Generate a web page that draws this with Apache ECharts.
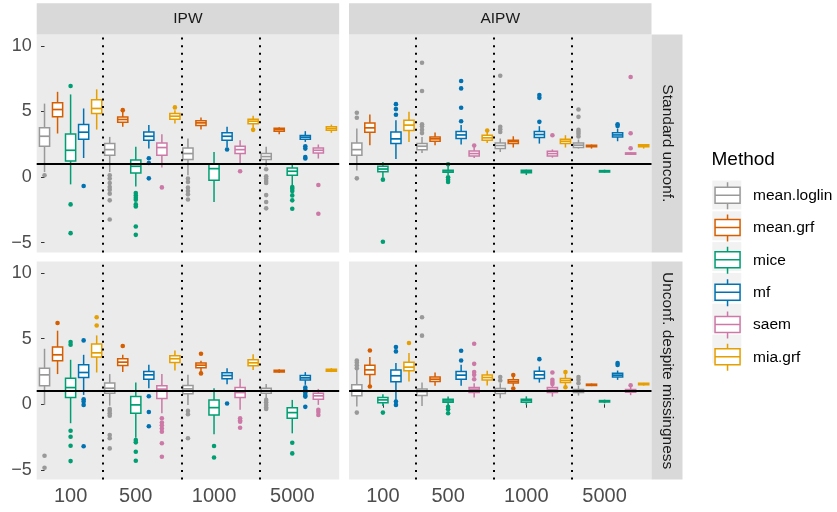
<!DOCTYPE html>
<html><head><meta charset="utf-8">
<script src="https://cdn.jsdelivr.net/npm/echarts@6/dist/echarts.min.js"></script>
<style>html,body{margin:0;padding:0;background:#fff}#c{width:837px;height:512px}</style>
</head><body><div id="c"></div>
<script>
// ---------------- data ----------------
const methods = ['mean.loglin', 'mean.grf', 'mice', 'mf', 'saem', 'mia.grf'];
const sampleSizes = ['100', '500', '1000', '5000'];
const estimators = ['IPW', 'AIPW'];
const scenarios = ['Standard unconf.', 'Unconf. despite missingness'];
const yTicks = [-5, 0, 5, 10];
const trueEffect = 1;

// box stats per method (rows) and sample size (cols): [min, Q1, median, Q3, max]
const ipwStandardBoxes = [
  [[0.38,2.35,3.11,3.75,5.6],[0.38,1.66,2.09,2.55,3.06],[0.13,1.33,1.79,2.22,2.94],[0.82,1.33,1.56,1.79,2.3]],
  [[3.32,4.59,5.15,5.66,6.5],[3.83,4.18,4.39,4.57,4.97],[3.62,3.93,4.13,4.29,4.54],[3.27,3.5,3.62,3.72,3.8]],
  [[-0.56,1.22,2.04,3.29,6.3],[-0.72,0.31,0.82,1.3,2.3],[-1.91,-0.25,0.64,0.97,1.91],[-0.64,0.13,0.44,0.69,1.07]],
  [[1.45,2.88,3.42,4.0,5.23],[2.17,2.81,3.11,3.44,3.96],[2.25,2.81,3.11,3.37,3.83],[2.68,2.88,3.04,3.17,3.5]],
  [null,[0.72,1.66,2.25,2.6,3.27],[1.03,1.79,2.09,2.35,2.81],[1.41,1.84,2.04,2.22,2.48]],
  [[3.62,4.85,5.23,5.89,6.69],[4.09,4.41,4.64,4.85,5.1],[3.7,4.06,4.26,4.41,4.67],[3.37,3.57,3.7,3.83,4.0]]
];
const ipwStandardOutliers = [
  [[0.13],[0.13,-0.12,-0.46,-0.77,-0.97,-1.27,-1.78,-3.24],[-0.12,-0.38,-0.81,-1.07,-1.32,-1.71],[0.59,0.05,-0.12,-0.31,-0.46,-1.38,-1.91,-2.39]],
  [[],[5.1],[],[]],
  [[6.94,-2.09,-4.28],[-1.22,-1.4,-1.58,-1.73,-2.09,-2.24,-3.77,-4.41],[],[-0.77,-0.9,-1.07,-1.4,-1.78,-2.42]],
  [[-0.69],[1.43,1.07,-0.1],[2.1],[2.35,2.17,1.53,1.41]],
  [[],[-0.79],[0.44],[-0.61,-2.8]],
  [[],[5.31],[3.6],[]]
];
const aipwStandardBoxes = [
  [[0.5,1.66,2.09,2.6,3.7],[1.84,2.09,2.35,2.55,3.06],[1.91,2.17,2.4,2.6,2.94],[2.17,2.25,2.43,2.6,2.86]],
  [[2.43,3.42,3.75,4.13,4.77],[2.43,2.73,2.91,3.06,3.4],[2.25,2.55,2.71,2.81,3.11],[2.17,2.3,2.38,2.43,2.48]],
  [[-0.05,0.41,0.61,0.82,1.15],[0.15,0.36,0.46,0.52,0.85],[0.15,0.33,0.43,0.51,0.56],[0.33,0.38,0.44,0.49,0.56]],
  [[1.38,2.55,2.91,3.44,4.34],[2.48,2.94,3.21,3.47,3.96],[2.55,3.01,3.24,3.47,3.88],[2.73,3.06,3.21,3.37,3.7]],
  [null,[1.45,1.61,1.79,1.99,2.3],[1.48,1.61,1.79,1.96,2.1],[1.68,1.74,1.79,1.84,1.9]],
  [[2.68,3.55,3.96,4.34,4.97],[2.6,2.81,2.99,3.19,3.45],[2.25,2.55,2.73,2.88,3.19],[2.17,2.3,2.4,2.46,2.5]]
];
const aipwStandardOutliers = [
  [[4.9,4.52,-0.1],[8.72,6.56,4.03,3.88,3.6,3.35],[7.73,3.83,3.65,3.44],[5.15,4.59,3.6,3.45,3.3,3.1]],
  [[],[],[],[]],
  [[-0.2,-4.94],[0.97,-0.02,-0.2,-0.38],[],[]],
  [[5.56,5.18,4.75],[7.32,6.76,5.28,4.26],[6.25,6.04,4.21],[4.03,3.9]],
  [[],[2.4],[3.19],[7.63,3.34,2.19]],
  [[],[3.55],[],[]]
];
const ipwUnconfBoxes = [
  [[-0.05,1.4,2.24,2.75,4.23],[-0.11,0.84,1.22,1.61,2.3],[-0.05,0.79,1.17,1.43,2.24],[0.46,0.84,1.04,1.22,1.55]],
  [[2.3,3.31,3.77,4.36,5.61],[2.45,2.96,3.21,3.47,3.77],[2.4,2.78,2.98,3.14,3.31],[2.38,2.45,2.52,2.6,2.67]],
  [[-1.45,0.51,1.27,1.99,3.39],[-2.55,-0.69,-0.05,0.58,1.66],[-2.3,-0.82,-0.26,0.33,1.22],[-2.22,-1.07,-0.64,-0.26,0.33]],
  [[0.71,2.04,2.42,3.01,3.77],[1.22,1.91,2.24,2.5,3.01],[1.53,1.94,2.19,2.4,2.75],[1.48,1.84,2.01,2.19,2.45]],
  [null,[-0.69,0.43,1.15,1.4,2.3],[-0.43,0.51,0.89,1.27,1.94],[-0.05,0.38,0.64,0.84,1.17]],
  [[2.42,3.6,3.92,4.59,5.25],[2.57,3.19,3.47,3.7,4.1],[2.62,2.93,3.16,3.39,3.82],[2.45,2.52,2.6,2.67,2.75]]
];
const ipwUnconfOutliers = [
  [[-3.93,-4.85],[-0.36,-0.5,-0.69,-0.87,-2.35,-2.6,-3.37],[-0.51,-0.77,-2.6],[0.33,0.15,-0.05,-0.25,-0.36]],
  [[6.2],[4.44],[3.85,2.35],[]],
  [[4.74,4.54,-2.02,-2.48,-3.17,-4.34],[-2.73,-2.91,-3.63,-4.31],[-3.19,-4.06],[-2.94,-3.75]],
  [[4.87,0.38,0.2,-0.05,-3.21],[0.61,-0.59,-1.68],[0.05],[1.27,1.1,0.9,0.7,0.58,-0.2]],
  [[],[-1.07,-1.4,-1.6,-1.85,-2.1,-2.98,-4.01],[-1.07,-1.25,-1.33,-1.79],[-0.43,-0.6,-0.82]],
  [[6.63,6.01],[],[],[]]
];
const aipwUnconfBoxes = [
  [[-0.18,0.64,1.09,1.48,2.62],[-0.13,0.66,0.96,1.17,1.65],[0.46,0.82,1.04,1.2,1.6],[0.66,0.89,1.0,1.12,1.4]],
  [[1.45,2.26,2.62,2.98,3.6],[1.4,1.73,1.91,2.07,2.42],[1.4,1.61,1.73,1.86,2.07],[1.38,1.43,1.48,1.53,1.58]],
  [[-0.13,0.12,0.33,0.51,0.77],[-0.05,0.15,0.25,0.38,0.58],[-0.05,0.15,0.28,0.38,0.6],[0.07,0.17,0.23,0.28,0.35]],
  [[0.33,1.71,2.17,2.62,3.14],[1.4,1.91,2.22,2.49,3.01],[1.65,1.96,2.24,2.52,2.88],[1.86,2.07,2.22,2.37,2.57]],
  [null,[0.51,0.89,1.15,1.27,1.6],[0.58,0.89,1.12,1.27,1.45],[0.69,0.92,1.02,1.12,1.4]],
  [[1.73,2.55,2.83,3.21,3.9],[1.42,1.84,2.04,2.22,2.55],[1.4,1.65,1.81,1.96,2.3],[1.42,1.48,1.55,1.6,1.63]]
];
const aipwUnconfOutliers = [
  [[3.34,3.18,2.98,2.75,-0.64],[6.63,5.23],[2.07,1.81],[2.07,1.86,1.6]],
  [[4.1,1.35],[],[2.22,1.19],[]],
  [[-0.64],[-0.2,-0.38,-0.69],[],[]],
  [[4.36,4.03,0.2,-0.05],[4.08,3.34],[3.44],[3.14,3.0]],
  [[],[4.61,3.08,2.45,2.24,1.91],[2.42,1.86,1.7,1.55],[1.45]],
  [[4.67],[],[2.45,1.3],[]]
];

// ---------------- styling / layout ----------------
const colors = ['#999999', '#D55E00', '#009E73', '#0072B2', '#CC79A7', '#E69F00'];
const FONT = '"Liberation Sans", Arial, Helvetica, sans-serif';
const panelLeft = [36.7, 349];
const panelTop = [34.4, 261.6];
const panelW = 302.5, panelH = 218;
const yMin = -5.75, yMax = 10.88;
const xPad = 0.6;

const panels = [
  {col: 0, row: 0, boxes: ipwStandardBoxes, outliers: ipwStandardOutliers},
  {col: 1, row: 0, boxes: aipwStandardBoxes, outliers: aipwStandardOutliers},
  {col: 0, row: 1, boxes: ipwUnconfBoxes, outliers: ipwUnconfOutliers},
  {col: 1, row: 1, boxes: aipwUnconfBoxes, outliers: aipwUnconfOutliers}
];

// dodge positions: consecutive slots, one per box present
function positions(boxes) {
  const pos = methods.map(() => []);
  const ticks = [], bounds = [];
  let idx = 0;
  sampleSizes.forEach((n, g) => {
    const present = methods.map((m, i) => i).filter(i => boxes[i][g]);
    present.forEach((i, k) => { pos[i][g] = idx + k; });
    ticks.push(idx + 2);
    idx += present.length;
    if (g < sampleSizes.length - 1) bounds.push(idx - 0.5);
  });
  return {pos, ticks, bounds, count: idx};
}

function renderBox(params, api) {
  const x = api.value(0);
  const lo = api.coord([x, api.value(1)]);
  const q1 = api.coord([x, api.value(2)]);
  const md = api.coord([x, api.value(3)]);
  const q3 = api.coord([x, api.value(4)]);
  const hi = api.coord([x, api.value(5)]);
  const hw = api.size([0.78, 0])[0] / 2;
  const c = api.visual('color');
  const lw = 1.5;
  return {type: 'group', children: [
    {type: 'line', shape: {x1: lo[0], y1: lo[1], x2: q1[0], y2: q1[1]}, style: {stroke: c, lineWidth: lw}},
    {type: 'line', shape: {x1: q3[0], y1: q3[1], x2: hi[0], y2: hi[1]}, style: {stroke: c, lineWidth: lw}},
    {type: 'rect', shape: {x: q1[0] - hw, y: q3[1], width: 2 * hw, height: q1[1] - q3[1]}, style: {fill: '#fff', stroke: c, lineWidth: lw}},
    {type: 'line', shape: {x1: md[0] - hw, y1: md[1], x2: md[0] + hw, y2: md[1]}, style: {stroke: c, lineWidth: 1.7}}
  ]};
}

const grid = [], xAxis = [], yAxis = [], boxSeries = [], pointSeries = [];
panels.forEach((p, pi) => {
  const L = positions(p.boxes);
  grid.push({left: panelLeft[p.col], top: panelTop[p.row], width: panelW, height: panelH,
    show: true, backgroundColor: '#EBEBEB', borderWidth: 0});
  const bottom = p.row === 1, left = p.col === 0;
  xAxis.push({type: 'value', gridIndex: pi, min: -xPad, max: L.count - 1 + xPad,
    axisLine: {show: false}, splitLine: {show: false},
    axisTick: {show: bottom, customValues: L.ticks, length: 3.5, lineStyle: {color: '#333', width: 1}},
    axisLabel: {show: bottom, customValues: L.ticks, margin: 7,
      formatter: v => sampleSizes[L.ticks.findIndex(t => Math.abs(t - v) < 1e-6)],
      color: '#4D4D4D', fontSize: 20, fontFamily: FONT}});
  yAxis.push({type: 'value', gridIndex: pi, min: yMin, max: yMax,
    axisLine: {show: false}, splitLine: {show: false},
    axisTick: {show: left, customValues: yTicks, length: 3.5, lineStyle: {color: '#333', width: 1}},
    axisLabel: {show: left, customValues: yTicks, margin: 5,
      formatter: v => (v < 0 ? '\u2212' + Math.abs(v) : String(v)),
      color: '#4D4D4D', fontSize: 18, fontFamily: FONT}});
  methods.forEach((m, i) => {
    const items = [], pts = [];
    sampleSizes.forEach((n, g) => {
      const b = p.boxes[i][g];
      if (!b) return;
      items.push([L.pos[i][g]].concat(b));
      p.outliers[i][g].forEach(v => pts.push([L.pos[i][g], v]));
    });
    boxSeries.push({name: m, type: 'custom', xAxisIndex: pi, yAxisIndex: pi,
      renderItem: renderBox, data: items, itemStyle: {color: colors[i]},
      encode: {x: 0, y: [1, 2, 3, 4, 5]}, z: 2, silent: true});
    const s = {name: m, type: 'scatter', xAxisIndex: pi, yAxisIndex: pi, data: pts,
      symbolSize: 4.6, itemStyle: {color: colors[i], opacity: 1}, z: 3, silent: true};
    if (i === 0) {
      s.markLine = {silent: true, symbol: ['none', 'none'], label: {show: false}, animation: false,
        data: [{yAxis: trueEffect, lineStyle: {color: '#000', width: 1.8, type: 'solid'}}]
          .concat(L.bounds.map(b => ({xAxis: b, lineStyle: {color: '#000', width: 2, type: [2, 5.6]}})))};
    }
    pointSeries.push(s);
  });
});

// facet strips
const graphic = [];
estimators.forEach((e, c) => {
  graphic.push({type: 'rect', shape: {x: panelLeft[c], y: 3.3, width: panelW, height: panelTop[0] - 3.3}, style: {fill: '#D9D9D9'}, silent: true});
  graphic.push({type: 'text', x: panelLeft[c] + panelW / 2, y: (3.3 + panelTop[0]) / 2,
    style: {text: e, fill: '#1A1A1A', font: '15.5px ' + FONT, align: 'center', verticalAlign: 'middle'}, silent: true});
});
const stripX = panelLeft[1] + panelW;
scenarios.forEach((s, r) => {
  graphic.push({type: 'rect', shape: {x: stripX, y: panelTop[r], width: 31, height: panelH}, style: {fill: '#D9D9D9'}, silent: true});
  graphic.push({type: 'text', x: stripX + 15.5, y: panelTop[r] + panelH / 2, rotation: -Math.PI / 2,
    style: {text: s, fill: '#1A1A1A', font: '15.5px ' + FONT, align: 'center', verticalAlign: 'middle'}, silent: true});
});
// legend key backgrounds
const legendLeft = 712.3, legendTop = 180.5, keySize = 29, keyGap = 1.8;
methods.forEach((m, i) => {
  graphic.push({type: 'rect', shape: {x: legendLeft, y: legendTop + i * (keySize + keyGap), width: keySize, height: keySize},
    style: {fill: '#F2F2F2'}, silent: true, z: -1});
});

const option = {
  backgroundColor: '#fff',
  animation: false,
  title: {text: 'Method', left: 711.5, top: 150.5, padding: 0,
    textStyle: {fontSize: 19, fontWeight: 'normal', color: '#000', fontFamily: FONT}},
  legend: {orient: 'vertical', left: legendLeft, top: legendTop, padding: 0,
    itemWidth: keySize, itemHeight: keySize, itemGap: keyGap, selectedMode: false,
    icon: 'path://M0 0M29 29M14.5 1L14.5 6M2 6L27 6L27 22L2 22ZM2 14L27 14M14.5 22L14.5 28',
    textStyle: {fontSize: 15.5, color: '#000', fontFamily: FONT, padding: [0, 0, 0, 6]},
    data: methods.map((m, i) => ({name: m, itemStyle: {color: '#fff', borderColor: colors[i], borderWidth: 1.5}}))},
  grid, xAxis, yAxis,
  graphic,
  series: boxSeries.concat(pointSeries)
};
const chart = echarts.init(document.getElementById('c'), null, {renderer: 'canvas'});
chart.setOption(option);
</script></body></html>
